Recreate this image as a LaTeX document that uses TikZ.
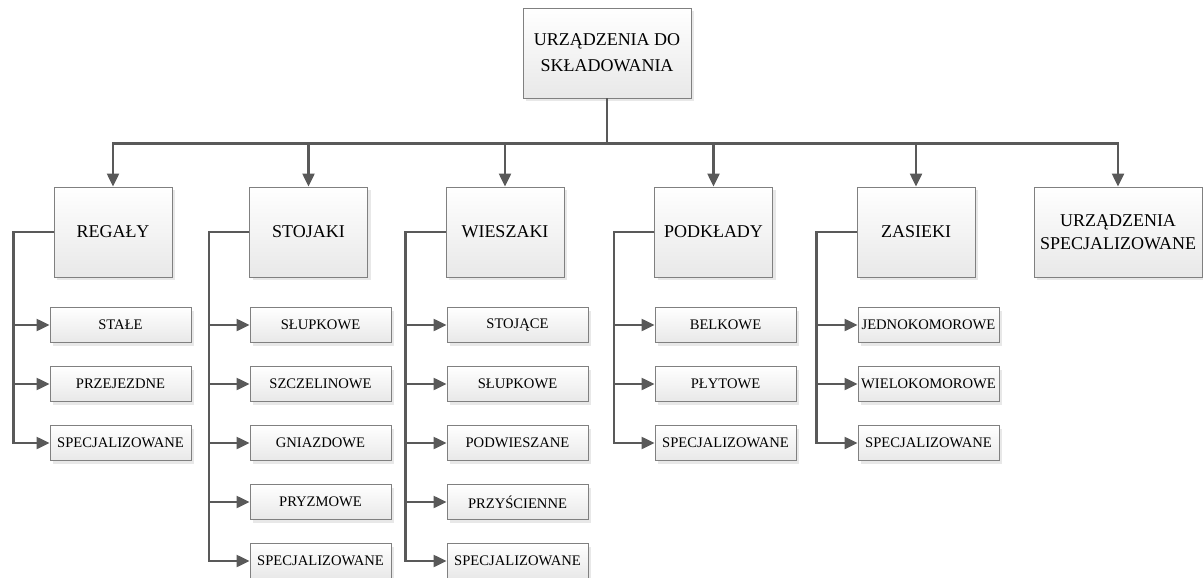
\documentclass[tikz,border=0pt]{standalone}
\usepackage{fontspec}
\setmainfont{Liberation Serif}
\usepackage{tikz}
\usetikzlibrary{arrows.meta,shadows}
\definecolor{linegray}{HTML}{595959}
\definecolor{boxgray}{HTML}{808080}

\begin{document}
\begin{tikzpicture}
  [x=1pt,y=-1pt,
   box/.style={draw=boxgray,line width=0.9pt,top color=white,bottom color=black!9,
     drop shadow={shadow xshift=3pt,shadow yshift=-3pt,fill=black!9,opacity=1},
     inner sep=0pt,align=center},
   main/.style={box,minimum width=168pt,minimum height=90pt,font=\fontsize{18}{26}\selectfont},
   group/.style={box,minimum width=118pt,minimum height=90pt,font=\fontsize{18}{23}\selectfont},
   item/.style={box,minimum width=141pt,minimum height=35pt,font=\fontsize{14.6}{17}\selectfont},
   link/.style={draw=linegray,line width=2.3pt,-{Triangle[length=13pt,width=12pt]}}]
  \useasboundingbox (0,0) rectangle (1203,578);

  \node[main] (ud) at (607,53) {URZĄDZENIA DO\\SKŁADOWANIA};

  \node[group] (regaly) at (113,232) {REGAŁY};
  \node[group] (stojaki) at (308.5,232) {STOJAKI};
  \node[group] (wieszaki) at (505,232) {WIESZAKI};
  \node[group] (podklady) at (713.5,232) {PODKŁADY};
  \node[group] (zasieki) at (916,232) {ZASIEKI};
  \node[group,minimum width=168pt] (uspec) at (1118,232) {URZĄDZENIA\\SPECJALIZOWANE};

  \node[item] (r1) at (120.5,325) {STAŁE};
  \node[item] (r2) at (120.5,384) {PRZEJEZDNE};
  \node[item] (r3) at (120.5,443) {SPECJALIZOWANE};

  \node[item] (s1) at (320.5,325) {SŁUPKOWE};
  \node[item] (s2) at (320.5,384) {SZCZELINOWE};
  \node[item] (s3) at (320.5,443) {GNIAZDOWE};
  \node[item] (s4) at (320.5,502) {PRYZMOWE};
  \node[item] (s5) at (320.5,561) {SPECJALIZOWANE};

  \node[item] (w1) at (517.5,325) {STOJĄCE};
  \node[item] (w2) at (517.5,384) {SŁUPKOWE};
  \node[item] (w3) at (517.5,443) {PODWIESZANE};
  \node[item] (w4) at (517.5,502) {PRZYŚCIENNE};
  \node[item] (w5) at (517.5,561) {SPECJALIZOWANE};

  \node[item] (p1) at (725.5,325) {BELKOWE};
  \node[item] (p2) at (725.5,384) {PŁYTOWE};
  \node[item] (p3) at (725.5,443) {SPECJALIZOWANE};

  \node[item] (z1) at (928.5,325) {JEDNOKOMOROWE};
  \node[item] (z2) at (928.5,384) {WIELOKOMOROWE};
  \node[item] (z3) at (928.5,443) {SPECJALIZOWANE};

  \foreach \to in {regaly,stojaki,wieszaki,podklady,zasieki,uspec}
    \draw[link] (ud.south) -- ++(0,45) -| (\to.north);

  \foreach \from/\to in {regaly/r1,regaly/r2,regaly/r3,
      stojaki/s1,stojaki/s2,stojaki/s3,stojaki/s4,stojaki/s5,
      wieszaki/w1,wieszaki/w2,wieszaki/w3,wieszaki/w4,wieszaki/w5,
      podklady/p1,podklady/p2,podklady/p3,
      zasieki/z1,zasieki/z2,zasieki/z3}
    \draw[link] (\from.west) -- ++(-40,0) |- (\to.west);

\end{tikzpicture}
\end{document}
